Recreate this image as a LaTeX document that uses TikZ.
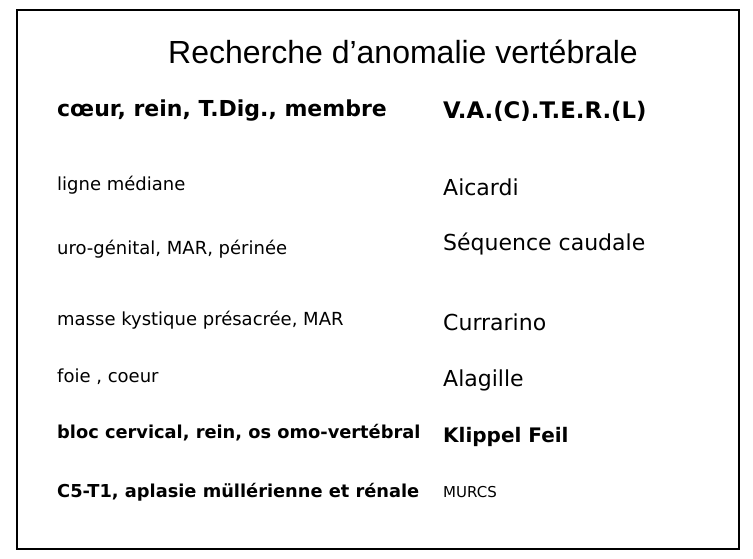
\documentclass[tikz,border=0pt]{standalone}
\usepackage{fontspec}
\setmainfont{DejaVu Sans}
\newfontfamily\titlefont{Liberation Sans}
\begin{document}
\begin{tikzpicture}[x=1pt,y=-1pt,
  lt/.style={anchor=west,inner sep=0pt,font=\fontsize{18}{21}\selectfont},
  ltb/.style={lt,font=\fontsize{17.8}{21}\selectfont\bfseries},
  rt/.style={anchor=west,inner sep=0pt,font=\fontsize{22}{26}\selectfont}]
\useasboundingbox (0,0) rectangle (753,558);
\draw[line width=1.2pt] (17,10) rectangle (739,549);
\node[inner sep=0pt,font=\titlefont\fontsize{32}{38}\selectfont] (title) at (403,52) {Recherche d’anomalie vertébrale};
\node[ltb,font=\fontsize{22}{26}\selectfont\bfseries] (l1) at (57,111) {cœur, rein, T.Dig., membre};
\node[rt,font=\fontsize{22.8}{27}\selectfont\bfseries] (r1) at (443,111) {V.A.(C).T.E.R.(L)};
\node[lt] (l2) at (57,185) {ligne médiane};
\node[rt] (r2) at (443,187) {Aicardi};
\node[lt] (l3) at (57,249) {uro-génital, MAR, périnée};
\node[rt] (r3) at (443,244) {Séquence caudale};
\node[lt] (l4) at (57,320) {masse kystique présacrée, MAR};
\node[rt] (r4) at (443,322) {Currarino};
\node[lt] (l5) at (57,377) {foie , coeur};
\node[rt] (r5) at (443,380) {Alagille};
\node[ltb] (l6) at (57,433) {bloc cervical, rein, os omo-vertébral};
\node[rt,font=\fontsize{20}{24}\selectfont\bfseries] (r6) at (443,437) {Klippel Feil};
\node[rt,font=\fontsize{15}{18}\selectfont] (r7) at (443,492) {MURCS};
\node[ltb] (l7) at (57,492) {C5-T1, aplasie müllérienne et rénale};
\end{tikzpicture}
\end{document}
